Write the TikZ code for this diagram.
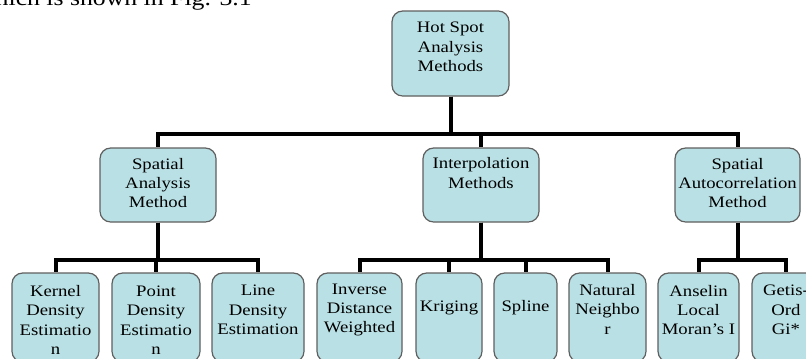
\documentclass[tikz,border=0pt]{standalone}
\usepackage{fontspec}
\setmainfont{Liberation Serif}[FakeStretch=1.17]
\usetikzlibrary{positioning}

\definecolor{boxfill}{RGB}{185,224,228}
\definecolor{boxline}{RGB}{95,95,95}

\tikzset{
  box/.style={draw=boxline, fill=boxfill, line width=0.9pt, rounded corners=8pt, inner sep=0pt},
  boxsize/.style 2 args={minimum width=#1*0.75pt, minimum height=#2*0.75pt},
  txt/.style={align=center, inner sep=0pt, font=\fontsize{12}{14.6}\selectfont},
  link/.style={line width=3pt}
}

\begin{document}
\begin{tikzpicture}[x=0.75pt,y=0.75pt,yscale=-1,xscale=1]
\useasboundingbox (0,0) rectangle (806,358);
\clip (0,0) rectangle (806,358);

% Text Node
\node [anchor=base east, inner sep=0pt, font=\fontsize{16.5}{19}\selectfont] (caption) at (252,5) {which is shown in Fig. 3.1};

%Rounded Rect
\node [box, boxsize={117}{85}] (root) at (450.5,53.5) {};
%Rounded Rect
\node [box, boxsize={116}{74}] (sam) at (158,185) {};
%Rounded Rect
\node [box, boxsize={116}{74}] (ipm) at (481,185) {};
%Rounded Rect
\node [box, boxsize={125}{74}] (sacm) at (737.5,185) {};

%Rounded Rect
\node [box, boxsize={87}{89}] (kde) at (55.5,317.5) {};
%Rounded Rect
\node [box, boxsize={88}{89}] (pde) at (156,317.5) {};
%Rounded Rect
\node [box, boxsize={92}{89}] (lde) at (258,317.5) {};
%Rounded Rect
\node [box, boxsize={85}{89}] (idw) at (359.5,317.5) {};
%Rounded Rect
\node [box, boxsize={66}{89}] (krg) at (449,317.5) {};
%Rounded Rect
\node [box, boxsize={63}{89}] (spl) at (525.5,317.5) {};
%Rounded Rect
\node [box, boxsize={77}{89}] (nn) at (607.5,317.5) {};
%Rounded Rect
\node [box, boxsize={81}{89}] (almi) at (698.5,317.5) {};
%Rounded Rect
\node [box, boxsize={68}{89}] (gog) at (786,317.5) {};

%Straight Lines
\draw [link] (root.south) -- ++(0,37) -| (sam.north);
\draw [link] (root.south) -- ++(0,37) -| (ipm.north);
\draw [link] (root.south) -- ++(0,37) -| (sacm.north);
%Straight Lines
\draw [link] (sam.south) -- ++(0,37) -| (kde.north);
\draw [link] (sam.south) -- ++(0,37) -| (pde.north);
\draw [link] (sam.south) -- ++(0,37) -| (lde.north);
%Straight Lines
\draw [link] (ipm.south) -- ++(0,37) -| (idw.north);
\draw [link] (ipm.south) -- ++(0,37) -| (krg.north);
\draw [link] (ipm.south) -- ++(0,37) -| (spl.north);
\draw [link] (ipm.south) -- ++(0,37) -| (nn.north);
%Straight Lines
\draw [link] (sacm.south) -- ++(0,37) -| (almi.north);
\draw [link] (sacm.south) -- ++(0,37) -| (gog.north);

% Text Node
\node [txt] (root-t) at (450.5,47) {Hot Spot\\Analysis\\Methods};
% Text Node
\node [txt] (sam-t) at (158,183) {Spatial\\Analysis\\Method};
% Text Node
\node [txt] (ipm-t) at (481,173) {Interpolation\\Methods};
% Text Node
\node [txt] (sacm-t) at (737.5,183) {Spatial\\Autocorrelation\\Method};
% Text Node
\node [txt] (kde-t) at (55.5,320) {Kernel\\Density\\Estimatio\\n};
% Text Node
\node [txt] (pde-t) at (156,320) {Point\\Density\\Estimatio\\n};
% Text Node
\node [txt] (lde-t) at (258,310) {Line\\Density\\Estimation};
% Text Node
\node [txt] (idw-t) at (359.5,310) {Inverse\\Distance\\Weighted};
% Text Node
\node [txt] (krg-t) at (449,308) {Kriging};
% Text Node
\node [txt] (spl-t) at (525.5,308) {Spline};
% Text Node
\node [txt] (nn-t) at (607.5,309) {Natural\\Neighbo\\r};
% Text Node
\node [txt] (almi-t) at (698.5,310) {Anselin\\Local\\Moran's I};
% Text Node
\node [txt] (gog-t) at (786,310) {Getis-\\Ord\\Gi*};

\end{tikzpicture}
\end{document}
